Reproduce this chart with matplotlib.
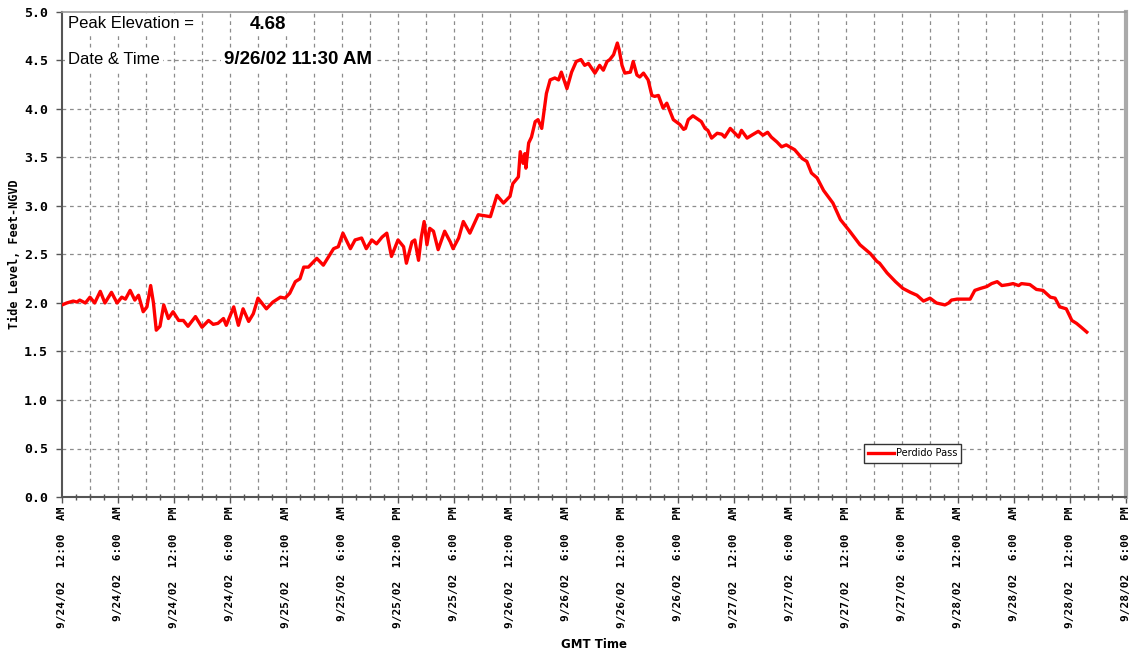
import matplotlib
matplotlib.use("Agg")
import matplotlib.pyplot as plt
import matplotlib.transforms as mtransforms
from matplotlib.ticker import MultipleLocator, FixedLocator, FixedFormatter, FormatStrFormatter

# hours since 9/24/02 12:00 AM (GMT)
hours = [0.0, 0.5, 1.2, 1.6, 1.9, 2.5, 3.0, 3.5, 4.1, 4.6, 5.3, 5.9, 6.4, 6.8, 7.3, 7.8, 8.2, 8.7,
         9.1, 9.5, 9.8, 10.1, 10.5, 10.9, 11.4, 11.9, 12.5, 13.0, 13.5, 14.3, 15.0, 15.7, 16.2,
         16.7, 17.3, 17.6, 18.4, 18.9, 19.4, 20.0, 20.5, 21.0, 21.9, 22.6, 23.4, 23.9, 24.4,
         25.0, 25.5, 25.9, 26.4, 27.3, 28.0, 29.1, 29.6, 30.1, 30.9, 31.4, 32.1, 32.6, 33.2,
         33.7, 34.3, 34.8, 35.3, 36.0, 36.6, 36.9, 37.5, 37.8, 38.2, 38.5, 38.8, 39.1, 39.4,
         39.8, 40.3, 41.0, 41.6, 41.9, 42.5, 43.0, 43.7, 44.6, 45.9, 46.6, 47.3, 48.0, 48.3,
         48.9, 49.1, 49.4, 49.6, 49.7, 50.0, 50.3, 50.7, 51.0, 51.4, 51.9, 52.3, 52.8, 53.2,
         53.5, 54.1, 54.6, 55.1, 55.6, 56.0, 56.4, 57.1, 57.6, 58.0, 58.4, 58.7, 59.1, 59.5,
         59.7, 60.0, 60.3, 60.9, 61.2, 61.6, 61.9, 62.3, 62.8, 63.2, 63.5, 63.9, 64.4, 64.8,
         65.5, 66.2, 66.6, 66.8, 67.1, 67.6, 68.2, 68.5, 68.9, 69.2, 69.6, 70.2, 70.7, 71.0,
         71.6, 72.1, 72.5, 72.8, 73.4, 73.9, 74.6, 75.1, 75.6, 76.0, 76.6, 77.1, 77.6, 78.5,
         79.3, 79.8, 80.3, 80.9, 81.6, 82.6, 83.4, 84.4, 85.5, 86.6, 87.3, 87.6, 88.4, 89.3,
         90.1, 90.9, 91.6, 92.3, 93.0, 93.7, 94.6, 95.0, 95.3, 95.9, 97.3, 97.8, 98.4, 99.1,
         99.6, 100.2, 100.7, 101.4, 101.9, 102.5, 102.8, 103.7, 104.4, 105.1, 105.9, 106.4,
         106.9, 107.6, 108.2, 108.7, 109.2, 109.8]

tide_level = [1.98, 2.00, 2.02, 2.01, 2.03, 2.00, 2.06, 2.00, 2.12, 2.00, 2.11, 2.00, 2.06, 2.04,
              2.13, 2.03, 2.08, 1.91, 1.96, 2.18, 2.00, 1.72, 1.76, 1.98, 1.84, 1.91, 1.82, 1.82,
              1.76, 1.86, 1.75, 1.82, 1.78, 1.79, 1.84, 1.77, 1.96, 1.77, 1.94, 1.81, 1.89, 2.05,
              1.94, 2.01, 2.06, 2.05, 2.10, 2.22, 2.25, 2.37, 2.37, 2.46, 2.39, 2.56, 2.58, 2.72,
              2.56, 2.65, 2.67, 2.56, 2.65, 2.61, 2.68, 2.72, 2.48, 2.65, 2.58, 2.41, 2.63, 2.65,
              2.44, 2.68, 2.84, 2.60, 2.77, 2.74, 2.55, 2.74, 2.63, 2.56, 2.67, 2.84, 2.72, 2.91,
              2.89, 3.11, 3.03, 3.10, 3.23, 3.30, 3.56, 3.44, 3.54, 3.39, 3.65, 3.71, 3.87, 3.89,
              3.80, 4.16, 4.30, 4.32, 4.30, 4.38, 4.21, 4.38, 4.49, 4.51, 4.45, 4.47, 4.37, 4.45,
              4.40, 4.49, 4.51, 4.56, 4.68, 4.61, 4.45, 4.37, 4.38, 4.49, 4.35, 4.33, 4.37, 4.30,
              4.14, 4.13, 4.14, 4.01, 4.06, 3.89, 3.84, 3.79, 3.80, 3.89, 3.93, 3.89, 3.87, 3.80,
              3.78, 3.70, 3.75, 3.74, 3.71, 3.80, 3.75, 3.71, 3.78, 3.70, 3.73, 3.77, 3.73, 3.76,
              3.71, 3.66, 3.61, 3.63, 3.58, 3.49, 3.46, 3.34, 3.29, 3.16, 3.03, 2.86, 2.74, 2.60,
              2.51, 2.43, 2.41, 2.31, 2.22, 2.15, 2.11, 2.08, 2.02, 2.05, 2.00, 1.98, 2.00, 2.03,
              2.04, 2.04, 2.13, 2.15, 2.17, 2.20, 2.22, 2.18, 2.19, 2.20, 2.18, 2.20, 2.19, 2.14,
              2.13, 2.06, 2.05, 1.96, 1.94, 1.82, 1.79, 1.75, 1.70]

tick_hours = [0, 6, 12, 18, 24, 30, 36, 42, 48, 54, 60, 66, 72, 78, 84, 90, 96, 102, 108, 114]
tick_labels = ["9/24/02  12:00  AM", "9/24/02  6:00  AM", "9/24/02  12:00  PM", "9/24/02  6:00  PM",
               "9/25/02  12:00  AM", "9/25/02  6:00  AM", "9/25/02  12:00  PM", "9/25/02  6:00  PM",
               "9/26/02  12:00  AM", "9/26/02  6:00  AM", "9/26/02  12:00  PM", "9/26/02  6:00  PM",
               "9/27/02  12:00  AM", "9/27/02  6:00  AM", "9/27/02  12:00  PM", "9/27/02  6:00  PM",
               "9/28/02  12:00  AM", "9/28/02  6:00  AM", "9/28/02  12:00  PM", "9/28/02  6:00  PM"]

peak_value = "4.68"
peak_time = "9/26/02 11:30 AM"
series_name = "Perdido Pass"

fig = plt.figure(figsize=(11.3, 6.56), dpi=100)
ax = fig.add_axes([62 / 1130, 1 - 497 / 656, 1064 / 1130, 485 / 656])

ax.plot(hours, tide_level, color="#ff0000", lw=2.4, label=series_name, zorder=3)

ax.set_xlim(0, 114)
ax.set_ylim(0, 5)

# ticks
ax.xaxis.set_major_locator(FixedLocator(tick_hours))
ax.xaxis.set_major_formatter(FixedFormatter(tick_labels))
ax.xaxis.set_minor_locator(MultipleLocator(1.5))
ax.yaxis.set_major_locator(MultipleLocator(0.5))
ax.yaxis.set_major_formatter(FormatStrFormatter("%.1f"))

mono = "DejaVu Sans Mono"
xlabels = ax.get_xticklabels()
for lab in xlabels:
    lab.set_rotation(90)
    lab.set_fontfamily(mono)
    lab.set_fontweight("bold")
    lab.set_fontsize(8)
    lab.set_va("top")
    lab.set_ha("center")
# keep the last label inside the canvas
shift = mtransforms.ScaledTranslation(-4 / 100, 0, fig.dpi_scale_trans)
xlabels[-1].set_transform(xlabels[-1].get_transform() + shift)

for lab in ax.get_yticklabels():
    lab.set_fontfamily(mono)
    lab.set_fontweight("bold")
    lab.set_fontsize(9.5)

ax.tick_params(axis="x", which="major", direction="out", length=4, width=1, color="#555555", pad=3)
ax.tick_params(axis="x", which="minor", direction="inout", length=4, width=1, color="#555555")
ax.tick_params(axis="y", which="major", direction="out", length=4, width=1, color="#555555", pad=6)

# gridlines every 3 hours and every 0.5 ft
for h in range(3, 114, 3):
    ax.axvline(h, color="#8c8c8c", lw=0.9, ls=(0, (3, 3)), zorder=1)
for v in [0.5, 1.0, 1.5, 2.0, 2.5, 3.0, 3.5, 4.0, 4.5]:
    ax.axhline(v, color="#8c8c8c", lw=0.9, ls=(0, (3, 3)), zorder=1)

for side in ["left", "bottom"]:
    ax.spines[side].set_color("#555555")
    ax.spines[side].set_linewidth(1.5)
ax.spines["top"].set_color("#999999")
ax.spines["top"].set_linewidth(1.2)
ax.spines["right"].set_color("#aaaaaa")
ax.spines["right"].set_linewidth(3)

ax.set_ylabel("Tide Level, Feet-NGVD", fontfamily=mono, fontweight="bold", fontsize=8.5)
ax.yaxis.set_label_coords(-(62 - 15) / 1064, 0.5)
ax.yaxis.label.set_va("center")
ax.set_xlabel("GMT Time", fontfamily="DejaVu Sans", fontweight="bold", fontsize=8.5)
ax.xaxis.set_label_coords(0.5, -(644 - 497) / 485)
ax.xaxis.label.set_va("center")

# annotation box
wb = dict(facecolor="white", edgecolor="none", pad=2)
ax.text(6 / 1064, 1 - 12 / 485, "Peak Elevation =", transform=ax.transAxes, fontsize=12,
        fontfamily="Liberation Sans", ha="left", va="center", bbox=wb, zorder=4)
ax.text(206 / 1064, 1 - 13 / 485, peak_value, transform=ax.transAxes, fontsize=13.5,
        fontweight="bold", fontfamily="Liberation Sans", ha="center", va="center", bbox=wb, zorder=4)
ax.text(6 / 1064, 1 - 48 / 485, "Date & Time", transform=ax.transAxes, fontsize=12,
        fontfamily="Liberation Sans", ha="left", va="center", bbox=wb, zorder=4)
ax.text(236 / 1064, 1 - 48 / 485, peak_time, transform=ax.transAxes, fontsize=13.5,
        fontweight="bold", fontfamily="Liberation Sans", ha="center", va="center", bbox=wb, zorder=4)

leg = ax.legend(loc="upper left", bbox_to_anchor=(802 / 1064, 53 / 485), fontsize=7,
                frameon=True, fancybox=False, edgecolor="#333333", handlelength=2.6,
                handletextpad=0.2, borderpad=0.45, borderaxespad=0)
leg.get_frame().set_linewidth(1.0)
leg.get_frame().set_alpha(1)

fig.savefig("out.png", dpi=100)
